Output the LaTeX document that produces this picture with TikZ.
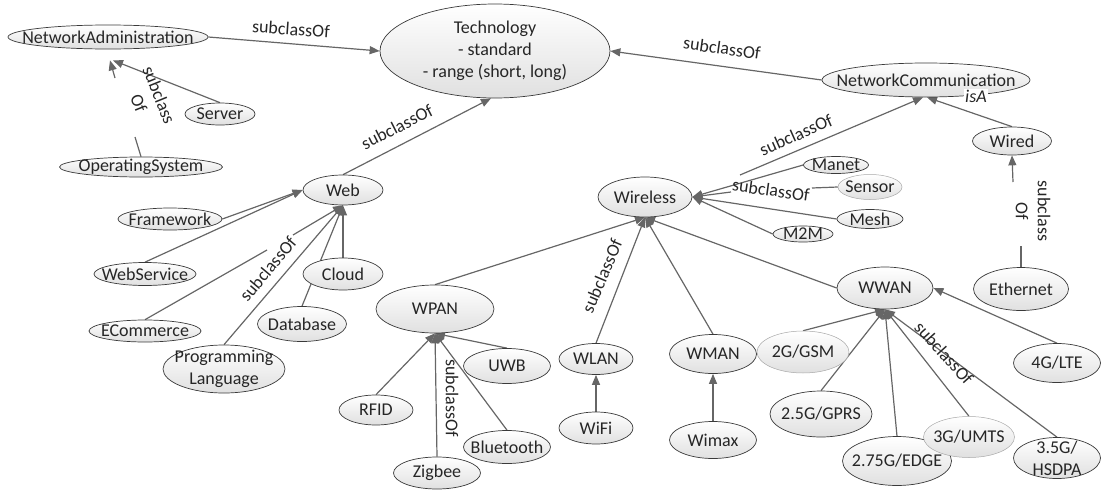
\documentclass[tikz,border=0pt]{standalone}
\usepackage{fontspec}
\setmainfont{Carlito}
\usetikzlibrary{shapes.geometric,arrows.meta}
\definecolor{ink}{HTML}{3A3A3A}
\definecolor{linec}{HTML}{666666}
\definecolor{txtc}{HTML}{262626}
\definecolor{fillb}{HTML}{E0E0E0}
\definecolor{lightb}{HTML}{A8A8A8}
\pgfdeclarelayer{bg}
\pgfsetlayers{bg,main}
\tikzset{
  txt/.style={font=\fontsize{18}{22}\selectfont, text=txtc, align=center, inner sep=0pt},
  cls/.style n args={3}{ellipse, draw=ink, line width=0.7pt, top color=white, bottom color=fillb,
     minimum width=#1, minimum height=#2, inner sep=0pt, label={[txt]center:{#3}}},
  pale/.style={draw=lightb, line width=0.5pt},
  edge/.style={draw=linec, line width=1.2pt},
  arr/.style={edge, -{Triangle[length=10pt,width=8pt]}},
  lbl/.style={txt},
}
\begin{document}
\begin{tikzpicture}[x=1pt,y=-1pt]
\useasboundingbox (0,0) rectangle (1104,490);
% nodes
\node[cls={200pt}{24pt}{NetworkAdministration}] (NA) at (108,37) {};
\node[cls={230pt}{94pt}{Technology\\- standard\\- range (short, long)}] (Tech) at (495,51) {};
\node[cls={208pt}{34pt}{NetworkCommunication}] (NC) at (926,80) {};
\node[cls={70pt}{22pt}{Server}] (Server) at (220,114) {};
\node[cls={163pt}{20pt}{OperatingSystem}] (OS) at (141,167) {};
\node[cls={80pt}{30pt}{Web}] (Web) at (343,190) {};
\node[cls={104pt}{22pt}{Framework}] (Framework) at (170,219) {};
\node[cls={102pt}{23pt}{WebService}] (WebService) at (145,274) {};
\node[cls={112pt}{22pt}{ECommerce}] (ECommerce) at (145,331) {};
\node[cls={122pt}{48pt}{Programming\\Language}] (PL) at (224,369) {};
\node[cls={80pt}{32pt}{Cloud}] (Cloud) at (343,274) {};
\node[cls={89pt}{35pt}{Database}] (Database) at (302,324) {};
\node[cls={118pt}{48pt}{WPAN}] (WPAN) at (435,309) {};
\node[cls={87pt}{35pt}{UWB}] (UWB) at (507,366) {};
\node[cls={74pt}{30pt}{RFID}] (RFID) at (376,410) {};
\node[cls={87pt}{33pt}{Bluetooth}] (Bluetooth) at (507,447) {};
\node[cls={87pt}{32pt}{Zigbee}] (Zigbee) at (437,473) {};
\node[cls={94pt}{40pt}{Wireless}] (Wireless) at (645,197) {};
\node[cls={65pt}{17pt}{Manet}] (Manet) at (836,165) {};
\node[cls={64pt}{25pt}{Sensor}, pale] (Sensor) at (870,187) {};
\node[cls={66pt}{19pt}{Mesh}] (Mesh) at (870,219) {};
\node[cls={60pt}{16pt}{M2M}] (M2M) at (803,234) {};
\node[cls={79pt}{28pt}{Wired}] (Wired) at (1012,141) {};
\node[cls={96pt}{42pt}{WWAN}] (WWAN) at (885,288) {};
\node[cls={95pt}{43pt}{Ethernet}] (Ethernet) at (1021,289) {};
\node[cls={74pt}{31pt}{WLAN}] (WLAN) at (596,359) {};
\node[cls={74pt}{32pt}{WiFi}] (WiFi) at (596,428) {};
\node[cls={87pt}{39pt}{WMAN}] (WMAN) at (713,354) {};
\node[cls={87pt}{37pt}{Wimax}] (Wimax) at (713,440) {};
\node[cls={92pt}{42pt}{2G/GSM}, pale] (GSM) at (803,352) {};
\node[cls={102pt}{46pt}{2.5G/GPRS}] (GPRS) at (821,414) {};
\node[cls={109pt}{49pt}{2.75G/EDGE}] (EDGE) at (897,461) {};
\node[cls={91pt}{41pt}{3G/UMTS}, pale] (UMTS) at (969,437) {};
\node[cls={87pt}{41pt}{3.5G/\\HSDPA}] (HSDPA) at (1057,458) {};
\node[cls={87pt}{39pt}{4G/LTE}] (LTE) at (1057,363) {};
% break points of connectors
\coordinate (osA) at (135,137);
\coordinate (osB) at (115,78);
\coordinate (ecA) at (267,250);
\coordinate (ecB) at (293,235);
\coordinate (snA) at (812,188);
\coordinate (snB) at (731,192);
\coordinate (ncA) at (740,175);
\coordinate (ethA) at (1021,246);
\coordinate (ethB) at (1013,182);
% connectors
\begin{pgfonlayer}{bg}
\draw[arr] (NA.east) -- (Tech.west);
\draw[arr] (NC.west) -- (Tech.east);
\draw[arr] (Web.north) -- ([xshift=-4pt]Tech.south);
\draw[arr] (Server.north) -- ([xshift=5pt,yshift=-11pt]NA.south);
\draw[edge] (OS.north) -- (osA);
\draw[arr] (osB) -- ([xshift=2pt,yshift=-11pt]NA.south);
\draw[arr] (Framework.east) -- (Web.west);
\draw[arr] (WebService.north) -- (Web.west);
\draw[edge] (ECommerce.north) -- (ecA);
\draw[arr] (ecB) -- (Web.south);
\draw[arr] (PL.north) -- (Web.south);
\draw[arr] (Database.north) -- (Web.south);
\draw[arr] (Cloud.north) -- (Web.south);
\draw[arr] (WPAN.north) -- (Wireless.south);
\draw[arr] (WLAN.north) -- (Wireless.south);
\draw[arr] (WMAN.north) -- (Wireless.south);
\draw[arr] (WWAN.west) -- (Wireless.south);
\draw[arr] (Manet.west) -- (Wireless.east);
\draw[edge] (Sensor.west) -- (snA);
\draw[arr] (snB) -- (Wireless.east);
\draw[arr] (Mesh.west) -- (Wireless.east);
\draw[arr] (M2M.west) -- (Wireless.east);
\draw[arr] (ncA) -- ([xshift=-3pt]NC.south);
\draw[arr] (Wired.north) -- ([xshift=1pt]NC.south);
\draw[edge] (Ethernet.north) -- (ethA);
\draw[arr] (ethB) -- (Wired.south);
\draw[arr] (RFID.north) -- (WPAN.south);
\draw[arr] (Zigbee.north) -- (WPAN.south);
\draw[arr] (Bluetooth.north) -- (WPAN.south);
\draw[arr] (UWB.north) -- (WPAN.south);
\draw[arr] (WiFi.north) -- (WLAN.south);
\draw[arr] (Wimax.north) -- (WMAN.south);
\draw[arr] (GSM.north) -- (WWAN.south);
\draw[arr] (GPRS.north) -- (WWAN.south);
\draw[arr] (EDGE.north) -- (WWAN.south);
\draw[arr] (UMTS.north) -- (WWAN.south);
\draw[arr] (HSDPA.north) -- (WWAN.south);
\draw[arr] (LTE.north) -- (WWAN.east);
\end{pgfonlayer}
% connector labels
\node[lbl, rotate=-4] (l1) at (291,29) {subclassOf};
\node[lbl, rotate=-8] (l2) at (722,48) {subclassOf};
\node[lbl, rotate=27] (l3) at (397,127) {subclassOf};
\node[lbl, rotate=-68] (l4) at (149,99) {subclass\\Of};
\node[lbl, rotate=50] (l5) at (268,269) {subclassOf};
\node[lbl, rotate=-90] (l6) at (452,398) {subclassOf};
\node[lbl, rotate=67] (l7) at (602,276) {subclassOf};
\node[lbl, rotate=24] (l8) at (796,135) {subclassOf};
\node[lbl, rotate=-8] (l9) at (771,190) {subclassOf};
\node[lbl, rotate=-48] (l10) at (944,353) {subclassOf};
\node[lbl, rotate=-90] (l11) at (1033,211) {subclass\\Of};
\node[lbl, fill=white, inner sep=1pt, font=\fontsize{18}{22}\selectfont\itshape] (l12) at (976,96) {isA};
\end{tikzpicture}
\end{document}
